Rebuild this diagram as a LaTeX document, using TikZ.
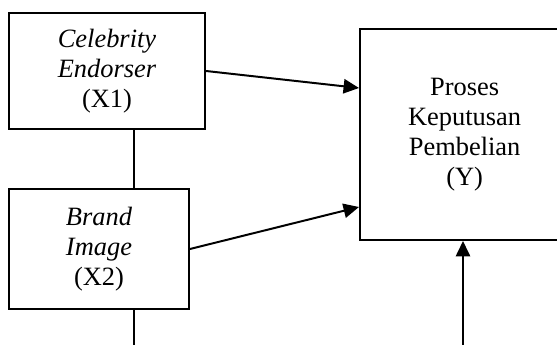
\documentclass[tikz,border=0pt]{standalone}
\usepackage{fontspec}
\setmainfont{Liberation Serif}
\usetikzlibrary{arrows.meta}
\begin{document}
\begin{tikzpicture}[x=0.454pt,y=-0.454pt,
  box/.style={draw, line width=0.9pt, inner sep=0pt, align=center,
    font=\fontsize{12pt}{13.6pt}\selectfont},
  conn/.style={line width=0.9pt},
  arr/.style={line width=0.9pt, -{Triangle[length=7pt,width=6.5pt]}}]
\useasboundingbox (0,0) rectangle (557,345);
\node[box, minimum width=89pt, minimum height=52.7pt] (x1) at (107,71)
  {\textit{Celebrity}\\\textit{Endorser}\\(X1)};
\node[box, minimum width=81.7pt, minimum height=54.5pt] (x2) at (99,249)
  {\textit{Brand}\\\textit{Image}\\(X2)};
\node[box, minimum width=95pt, minimum height=95.8pt, anchor=west, text width=91.7pt] (y) at (359,134.5)
  {Proses\\Keputusan\\Pembelian\\(Y)};
\coordinate (c1) at (134,0);
\coordinate (b1) at (134,350);
\coordinate (c3) at (463,350);
\coordinate (t1) at (359,88);
\coordinate (t2) at (359,207);
\draw[conn] (x1.south -| c1) -- (x2.north -| c1);
\draw[conn] (x2.south -| c1) -- (b1);
\draw[arr] (x1.east) -- (t1);
\draw[arr] (x2.east) -- (t2);
\draw[arr] (c3) -- (y.south -| c3);
\end{tikzpicture}
\end{document}
